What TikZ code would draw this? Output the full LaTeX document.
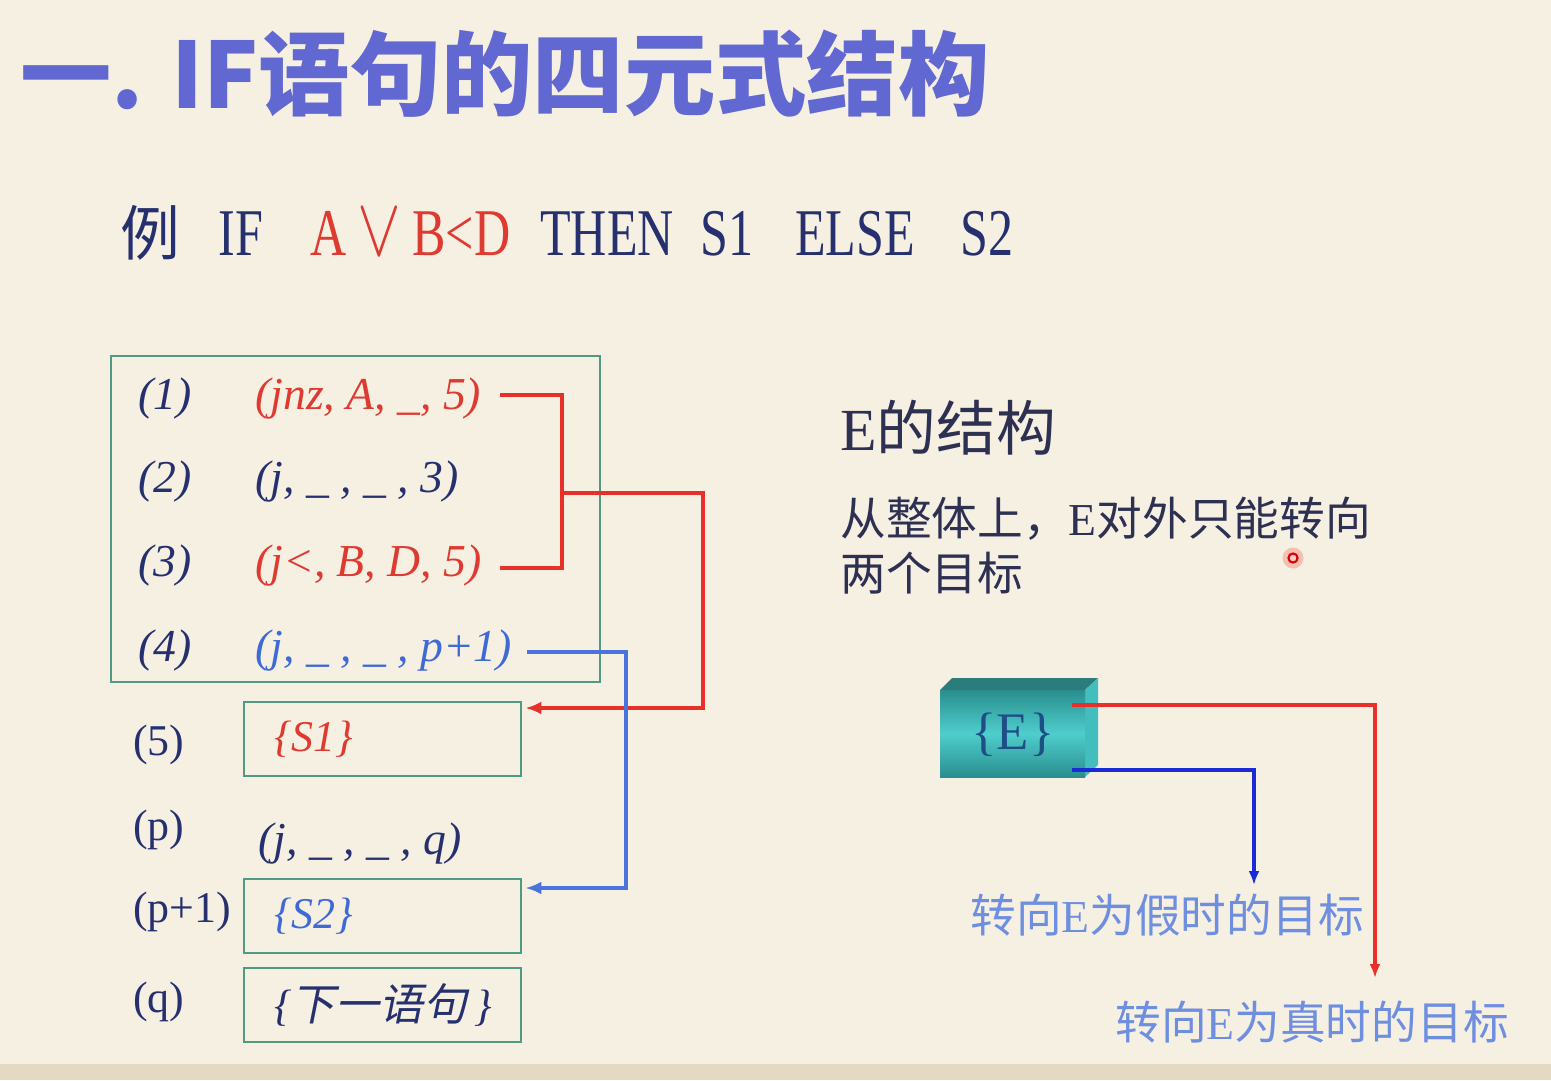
\documentclass[tikz,border=0pt]{standalone}
\usepackage{fontspec}
\setmainfont{Liberation Serif}
\newfontfamily\cjk{Noto Sans CJK SC}
\newfontfamily\cjkit[FakeSlant=0.2]{Noto Sans CJK SC}
\newfontfamily\narrowserif[FakeStretch=0.75]{Liberation Serif}
\usetikzlibrary{calc}
\usetikzlibrary{arrows.meta}
\tikzset{>={Latex[width=2.6mm,length=3.2mm]}}
\definecolor{paper}{HTML}{F6F0E3}
\definecolor{strip}{HTML}{E4DAC4}
\definecolor{navy}{HTML}{26306E}
\definecolor{darkgrey}{HTML}{2E3052}
\definecolor{quadred}{HTML}{DE3A30}
\definecolor{quadblue}{HTML}{3F6AD6}
\definecolor{linkred}{HTML}{E8302A}
\definecolor{linkblue}{HTML}{4A74DC}
\definecolor{eblueline}{HTML}{1A2BD6}
\definecolor{framegreen}{HTML}{4E9A84}
\definecolor{titleblue}{HTML}{6168D2}
\definecolor{goalblue}{HTML}{6E8EE0}
\definecolor{tealtop}{HTML}{2B7D7D}
\definecolor{tealside}{HTML}{43BDBD}
\definecolor{tealdark}{HTML}{2A8E8E}
\definecolor{teallight}{HTML}{4FCDCD}
\definecolor{etext}{HTML}{1F4E86}

\begin{document}
\begin{tikzpicture}[
    x = 0.02cm, y = -0.02cm,
    titletext/.style = {font=\fontsize{52}{60}\cjk\bfseries, anchor=base west, inner sep=0pt},
    word/.style = {font=\fontsize{38}{44}\narrowserif, text=navy, anchor=base west, inner sep=0pt},
    quad/.style = {font=\fontsize{26}{32}\selectfont\itshape, anchor=west, inner sep=0pt},
    rowlabel/.style = {font=\fontsize{25}{30}\selectfont, text=navy, anchor=west, inner sep=0pt},
    stmtbox/.style = {draw=framegreen, line width=1.4pt, minimum width=5.54cm,
        minimum height=1.48cm, text width=4.34cm, inner xsep=0.6cm, align=left,
        anchor=north west, font=\fontsize{25}{30}\selectfont\itshape},
    redline/.style = {draw=linkred, line width=2.2pt},
    blueline/.style = {draw=linkblue, line width=2pt},
    goal/.style = {font=\fontsize{26}{30}\selectfont, text=goalblue, anchor=west, inner sep=0pt}
  ]
  % background
  \fill[paper] (0,0) rectangle (1551,1080);
  \fill[strip] (0,1064) rectangle (1551,1080);

  % title
  \node[titletext, text=titleblue] (title) at (20,108) {一. IF语句的四元式结构};

  % example statement
  \node[word, font=\fontsize{34}{40}\cjk] (li) at (120,255) {例};
  \node[word] (kwif) at (218,255) {IF};
  \node[word, text=quadred] (cond) at (310,255) {A\,\scalebox{1.5}[1.9]{$\vee$}\,B<D};
  \node[word] (kwthen) at (540,255) {THEN};
  \node[word] (kws1) at (700,255) {S1};
  \node[word] (kwelse) at (795,255) {ELSE};
  \node[word] (kws2) at (960,255) {S2};

  % quadruples of E
  \node[draw=framegreen, line width=1.4pt, minimum width=9.78cm, minimum height=6.52cm,
    anchor=north west, inner sep=0pt] (block) at (110,355) {};
  \foreach \i/\y/\q/\c in {1/398/{(jnz, A, \_, 5)}/quadred, 2/481/{(j, \_ , \_ , 3)}/navy,
      3/565/{(j<, B, D, 5)}/quadred, 4/650/{(j, \_ , \_ , p+1)}/quadblue} {
    \node[quad, text=navy] (n\i) at (138,\y) {(\i)};
    \node[quad, text=\c] (q\i) at (255,\y) {\q};
  }

  \node[rowlabel] (l5) at (133,745) {(5)};
  \node[stmtbox, text=quadred] (s1box) at (243,701) {\{S1\}};
  \node[rowlabel] (lp) at (133,830) {(p)};
  \node[quad, text=navy] (qp) at (258,843) {(j, \_ , \_ , q)};
  \node[rowlabel] (lp1) at (133,912) {(p+1)};
  \node[stmtbox, text=quadblue] (s2box) at (243,878) {\{S2\}};
  \node[rowlabel] (lq) at (133,1002) {(q)};
  \node[stmtbox, text=navy] (nextbox) at (243,967) {\{{\cjkit 下一语句}\kern4pt\}};

  % jumps
  \coordinate (q1out) at (500,395);
  \coordinate (q3out) at (500,568);
  \coordinate (tjoin) at (562,493);
  \coordinate (q4out) at (527,652);
  \draw[redline] (q1out) -| (tjoin) |- (q3out);
  \draw[redline, ->] (tjoin) -- ++(141,0) |- ($(s1box.north east)+(3,7)$);
  \draw[blueline, ->] (q4out) -- ++(99,0) |- ($(s2box.north east)+(3,10)$);

  % structure of E
  \node[font=\fontsize{34}{40}\selectfont, text=darkgrey, anchor=west, inner sep=0pt]
    (etitle) at (840,428) {E{\cjk 的结构}};
  \node[font=\fontsize{26}{31}\selectfont, text=darkgrey, anchor=north west, align=left,
    inner sep=0pt] (enote) at (840,497) {{\cjk 从整体上，}E{\cjk 对外只能转向}\\{\cjk 两个目标}};
  \fill[red, opacity=0.2] (1293,558) circle (6pt);
  \draw[red!85!black, line width=1.2pt, fill=red!20] (1293,558) circle (2.6pt);

  \fill[tealtop] (940,690) -- (952,678) -- (1098,678) -- (1085,690) -- cycle;
  \fill[tealside] (1085,690) -- (1098,678) -- (1098,765) -- (1085,777) -- cycle;
  \shade[top color=tealdark, bottom color=tealdark, middle color=teallight] (940,690) rectangle (1085,777);
  \node[font=\fontsize{30}{36}\selectfont, text=etext] (eblock) at (1013,735) {\{E\}};

  \coordinate (etrue) at (1072,705);
  \coordinate (truetip) at (1375,978);
  \coordinate (efalse) at (1072,770);
  \coordinate (falsetip) at (1254,885);
  \draw[redline, line width=2pt, -{Latex[width=2.2mm,length=2.8mm]}] (etrue) -| (truetip);
  \draw[draw=eblueline, line width=2.2pt, -{Latex[width=2.2mm,length=2.8mm]}] (efalse) -| (falsetip);

  \node[goal] (falsegoal) at (970,915) {{\cjk 转向}E{\cjk 为假时的目标}};
  \node[goal] (truegoal) at (1115,1022) {{\cjk 转向}E{\cjk 为真时的目标}};
\end{tikzpicture}
\end{document}
